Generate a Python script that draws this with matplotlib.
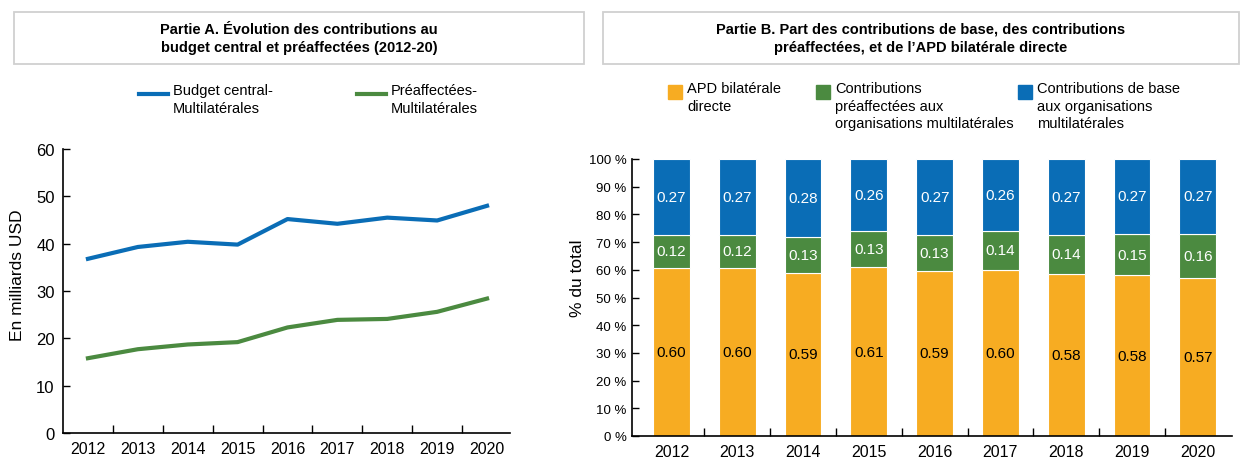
import matplotlib.pyplot as plt
from matplotlib.patches import Rectangle
from matplotlib.lines import Line2D
import numpy as np

plt.rcParams['font.family'] = ['Liberation Sans', 'DejaVu Sans']

years = ['2012', '2013', '2014', '2015', '2016', '2017', '2018', '2019', '2020']

# Partie A, milliards USD
budget_central = [36.8, 39.3, 40.4, 39.8, 45.2, 44.2, 45.5, 44.9, 48.0]
preaffectees = [15.8, 17.7, 18.7, 19.2, 22.3, 23.9, 24.1, 25.6, 28.4]

# Partie B, parts du total
apd_bilaterale = [0.60, 0.60, 0.59, 0.61, 0.59, 0.60, 0.58, 0.58, 0.57]
contrib_preaff = [0.12, 0.12, 0.13, 0.13, 0.13, 0.14, 0.14, 0.15, 0.16]
contrib_base = [0.27, 0.27, 0.28, 0.26, 0.27, 0.26, 0.27, 0.27, 0.27]

BLUE = '#0a6db6'
GREEN = '#4b8a40'
YELLOW = '#f7ac22'

W, H = 1240, 460
fig = plt.figure(figsize=(W / 100, H / 100), dpi=100)


def px_axes(x0, y0, x1, y1):
    return fig.add_axes([x0 / W, 1 - y1 / H, (x1 - x0) / W, (y1 - y0) / H])


def title_box(x0, y0, x1, y1, text):
    fig.patches.append(Rectangle((x0 / W, 1 - y1 / H), (x1 - x0) / W, (y1 - y0) / H,
                                 transform=fig.transFigure, fill=False,
                                 edgecolor='#d0d0d0', linewidth=1.3))
    fig.text((x0 + x1) / 2 / W, 1 - (y0 + y1) / 2 / H, text, ha='center', va='center',
             fontsize=10.5, fontweight='bold', linespacing=1.45)


def legend_entry(x, y, color, kind, text):
    # y = vertical centre of the marker, aligned with the first text line
    if kind == 'line':
        fig.lines.append(Line2D([x / W, (x + 29) / W], [1 - y / H, 1 - y / H],
                                transform=fig.transFigure, color=color, linewidth=3))
        tx = x + 34
    else:
        fig.patches.append(Rectangle((x / W, 1 - (y + 7) / H), 14 / W, 14 / H,
                                     transform=fig.transFigure, color=color))
        tx = x + 19
    fig.text(tx / W, 1 - (y - 11) / H, text, ha='left', va='top', fontsize=10.5,
             linespacing=1.32)


def style_axes(ax, n):
    for s in ['top', 'right']:
        ax.spines[s].set_visible(False)
    ax.spines['left'].set_linewidth(1.2)
    ax.spines['bottom'].set_linewidth(1.2)
    ax.set_xticks(range(n))
    ax.set_xticklabels(years, fontsize=11.5)
    ax.set_xticks(np.arange(n - 1) + 0.5, minor=True)
    ax.tick_params(axis='x', which='major', length=0, pad=6)
    ax.tick_params(axis='x', which='minor', direction='in', length=6, width=1)
    ax.tick_params(axis='y', direction='in', length=5, width=1)


# ---- Partie A
title_box(14, 13, 584, 65, 'Partie A. Évolution des contributions au\nbudget central et préaffectées (2012-20)')
legend_entry(139, 95, BLUE, 'line', 'Budget central-\nMultilatérales')
legend_entry(357, 95, GREEN, 'line', 'Préaffectées-\nMultilatérales')

ax1 = px_axes(63, 150, 510, 434)
x = np.arange(len(years))
ax1.plot(x, budget_central, color=BLUE, linewidth=3)
ax1.plot(x, preaffectees, color=GREEN, linewidth=3)
ax1.set_ylim(0, 60)
ax1.set_xlim(-0.5, 8.46)
ax1.set_yticks(range(0, 61, 10))
style_axes(ax1, len(years))
ax1.tick_params(axis='y', labelsize=12, pad=6)
ax1.set_ylabel('En milliards USD', fontsize=12.5)
ax1.yaxis.set_label_coords(-0.085, 0.56)

# ---- Partie B
title_box(603, 13, 1239, 65, "Partie B. Part des contributions de base, des contributions\npréaffectées, et de l’APD bilatérale directe")
legend_entry(668, 93, YELLOW, 'square', 'APD bilatérale\ndirecte')
legend_entry(816, 93, GREEN, 'square', 'Contributions\npréaffectées aux\norganisations multilatérales')
legend_entry(1018, 93, BLUE, 'square', 'Contributions de base\naux organisations\nmultilatérales')

ax2 = px_axes(632, 160, 1232, 437)
a = np.array(apd_bilaterale)
g = np.array(contrib_preaff)
b = np.array(contrib_base)
tot = a + g + b
bw = 0.56
segments = [(a / tot, np.zeros(len(a)), YELLOW, a, 'black'),
            (g / tot, a / tot, GREEN, g, 'white'),
            (b / tot, (a + g) / tot, BLUE, b, 'white')]
for h, bottom, color, vals, tc in segments:
    bars = ax2.bar(x, h, bottom=bottom, width=bw, color=color, edgecolor='white', linewidth=0.8)
    ax2.bar_label(bars, labels=[f'{v:.2f}' for v in vals], label_type='center',
                  color=tc, fontsize=11)
ax2.set_ylim(0, 1)
ax2.set_xlim(-0.6, 8.52)
ax2.set_yticks(np.arange(0, 1.01, 0.1))
ax2.set_yticklabels([f'{v} %' for v in range(0, 101, 10)])
style_axes(ax2, len(years))
ax2.tick_params(axis='y', labelsize=9.5, pad=4)
ax2.set_ylabel('% du total', fontsize=12.5)
ax2.yaxis.set_label_coords(-0.078, 0.574)

fig.savefig('out.png', dpi=100)
